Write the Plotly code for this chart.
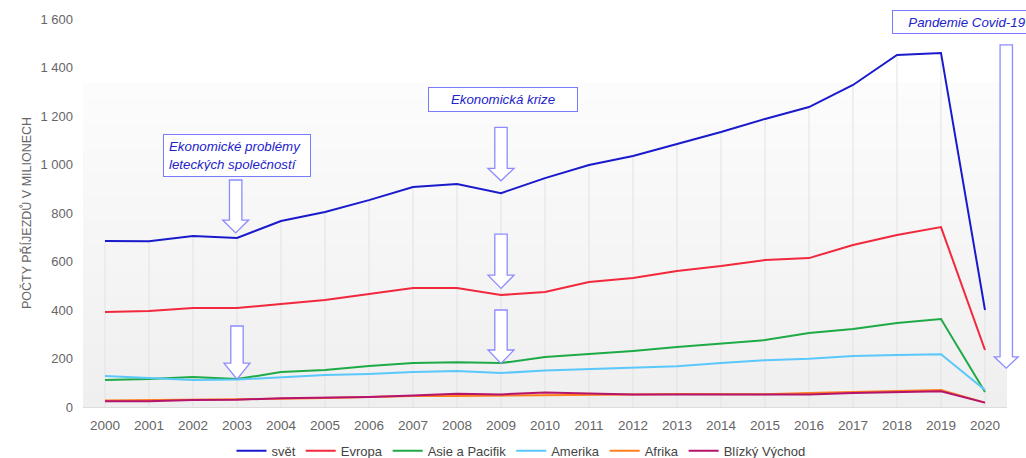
import plotly.graph_objects as go

years = list(range(2000, 2021))
svet = [685, 684, 705, 697, 767, 804, 853, 907, 920, 882, 944, 998, 1035, 1085, 1134, 1188, 1237, 1328, 1452, 1460, 400]
evropa = [392, 396, 408, 408, 425, 441, 466, 491, 491, 462, 474, 515, 532, 561, 581, 606, 614, 668, 709, 742, 235]
asie = [111, 115, 124, 115, 144, 153, 169, 181, 185, 181, 206, 218, 231, 247, 260, 276, 305, 322, 346, 363, 62]
amerika = [128, 120, 111, 113, 124, 132, 136, 144, 148, 140, 151, 156, 164, 168, 181, 193, 199, 210, 214, 218, 70]
afrika = [27, 28, 29, 31, 34, 37, 41, 45, 45, 46, 50, 50, 52, 54, 55, 53, 58, 63, 67, 70, 18]
blizky = [24, 24, 29, 30, 36, 38, 41, 47, 55, 52, 60, 56, 52, 52, 52, 53, 52, 58, 60, 65, 18]

series = [
    ("svět", svet, "#1a1acd"),
    ("Evropa", evropa, "#f2283c"),
    ("Asie a Pacifik", asie, "#1eaa46"),
    ("Amerika", amerika, "#5ac8fa"),
    ("Afrika", afrika, "#ff7f1e"),
    ("Blízký Východ", blizky, "#b4146e"),
]

FONT = "Arial, Liberation Sans, sans-serif"
fig = go.Figure()

# drop lines from the world series to the axis (act as vertical grid)
fig.add_trace(go.Scatter(
    x=years, y=svet, mode="markers", marker=dict(size=1, color="rgba(0,0,0,0)"),
    error_y=dict(type="data", symmetric=False, array=[0] * len(years), arrayminus=svet,
                 color="#e2e2e2", thickness=1, width=0),
    showlegend=False, hoverinfo="skip"))

for name, vals, col in series:
    fig.add_trace(go.Scatter(x=years, y=vals, mode="lines", name=name,
                             line=dict(color=col, width=2)))

shapes = []
# background gradient (style)
n = 40
top_c, bot_c = 252, 239
y_top = 0.835
for i in range(n):
    f0 = i / n
    f1 = (i + 1) / n
    c = round(bot_c + (top_c - bot_c) * (f0 + f1) / 2)
    shapes.append(dict(type="rect", xref="paper", yref="paper", x0=0, x1=1,
                       y0=y_top * f0, y1=y_top * f1 + 0.001, line=dict(width=0),
                       fillcolor=f"rgb({c},{c},{c})", layer="below"))

def arrow(xc, ytop, yhead, ytip, hs, hh, xref="x"):
    p = (f"M {xc-hs},{ytop} L {xc+hs},{ytop} L {xc+hs},{yhead} L {xc+hh},{yhead} "
         f"L {xc},{ytip} L {xc-hh},{yhead} L {xc-hs},{yhead} Z")
    return dict(type="path", path=p, xref=xref, yref="y", fillcolor="white",
                line=dict(color="#8c8cff", width=1.3), layer="above")

# arrows: (x year, top, head start, tip)
arrows = [
    (2002.97, 936, 771, 718),
    (2009.0, 1153, 984, 933),
    (2009.0, 713, 544, 489),
    (2009.0, 400, 235, 180),
    (2003.0, 334, 181, 115),
]
for xc, a, b, c in arrows:
    shapes.append(arrow(xc, a, b, c, 0.141, 0.296))
shapes.append(arrow(0.9992, 1493, 207, 160, 0.0067, 0.013, xref="paper"))

ann_font = dict(family=FONT, size=13.3, color="#2222cc")
annotations = [
    dict(x=2003, y=1037, xref="x", yref="y", text="<i>Ekonomické problémy<br>leteckých společností</i>",
         showarrow=False, font=ann_font, bgcolor="white", bordercolor="#7a7aff", borderwidth=1,
         borderpad=5, width=136, height=31, align="left", xanchor="center", yanchor="middle"),
    dict(x=2009.05, y=1268, xref="x", yref="y", text="<i>Ekonomická krize</i>",
         showarrow=False, font=ann_font, bgcolor="white", bordercolor="#7a7aff", borderwidth=1,
         borderpad=1, width=146, height=21, xanchor="center", yanchor="middle"),
    dict(x=0.8755, y=1588, xref="paper", yref="y", text="<i>Pandemie Covid-19</i>",
         showarrow=False, font=ann_font, bgcolor="white", bordercolor="#7a7aff", borderwidth=1,
         borderpad=1, width=146, height=20, xanchor="left", yanchor="middle"),
]

fig.update_layout(
    width=1026, height=458,
    margin=dict(l=83, r=19, t=19, b=51, autoexpand=False),
    paper_bgcolor="white", plot_bgcolor="rgba(0,0,0,0)",
    separators=", ",
    font=dict(family=FONT, size=13, color="#666666"),
    shapes=shapes, annotations=annotations,
    showlegend=True,
    legend=dict(orientation="h", x=0.474, xanchor="center", y=-0.113, yanchor="middle",
                font=dict(family=FONT, size=13, color="#444444"), itemwidth=30),
    xaxis=dict(range=[1999.5, 2020.5], tickmode="array", tickvals=years,
               ticktext=[str(y) for y in years], showgrid=False, zeroline=False,
               showline=True, linecolor="#dcdcdc", linewidth=1,
               tickfont=dict(size=13.5, color="#666666"), ticklabelstandoff=6),
    yaxis=dict(range=[0, 1600], tickvals=[0, 200, 400, 600, 800, 1000, 1200, 1400, 1600],
               separatethousands=True, showgrid=False, zeroline=False,
               tickfont=dict(size=13, color="#666666"), ticklabelstandoff=9,
               title=dict(text="POČTY PŘÍJEZDŮ V MILIONECH", font=dict(size=12.5, color="#666666"),
                          standoff=6)),
)

fig.write_html("out.html", config={"displayModeBar": False},
               post_script="document.body.style.margin='0';")
